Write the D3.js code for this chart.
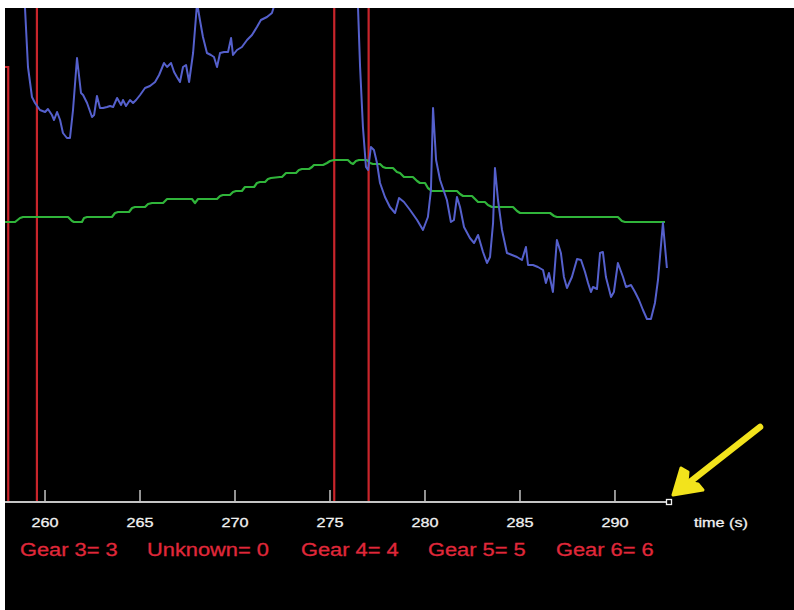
<!DOCTYPE html>
<html>
<head>
<meta charset="utf-8">
<script src="https://cdn.jsdelivr.net/npm/d3@7"></script>
<style>
  html, body { margin: 0; padding: 0; background: #ffffff; }
  svg { display: block; }
</style>
</head>
<body>
<svg id="chart" width="794" height="610"></svg>
<script>
// Engine speed trace (rpm) against lap time (s)
const rpmTime = [
  258.87, 258.97, 259.13, 259.34, 259.50, 259.76, 260.03, 260.18, 260.39, 260.50,
  260.66, 260.82, 260.97, 261.18, 261.34, 261.50, 261.71, 261.92, 262.03, 262.24,
  262.50, 262.61, 262.76, 262.92, 263.08, 263.29, 263.45, 263.61, 263.82, 264.03,
  264.13, 264.29, 264.50, 264.66, 264.82, 265.03, 265.29, 265.55, 265.82, 266.03,
  266.29, 266.45, 266.66, 266.82, 266.97, 267.13, 267.29, 267.45, 267.61, 267.82,
  268.03, 268.18, 268.34, 268.55, 268.76, 268.92, 269.08, 269.24, 269.45, 269.66,
  269.82, 269.92, 270.13, 270.39, 270.66, 270.92, 271.18, 271.39, 271.71, 271.97,
  272.18, 272.39, 273.45, 275.55, 276.39,
  276.50, 276.61, 276.76, 276.92, 277.03, 277.18, 277.34, 277.50, 277.66, 277.92,
  278.18, 278.45, 278.66, 278.92, 279.24, 279.61, 279.92, 280.18, 280.34, 280.45,
  280.61, 280.82, 281.18, 281.39, 281.55, 281.71, 281.87, 282.08, 282.39, 282.61,
  282.82, 283.08, 283.29, 283.45, 283.61, 283.71, 283.87, 284.08, 284.34, 284.61,
  284.87, 285.13, 285.34, 285.45, 285.71, 285.97, 286.24, 286.39, 286.55, 286.76,
  286.97, 287.18, 287.34, 287.50, 287.76, 288.03, 288.24, 288.45, 288.61, 288.76,
  288.87, 289.08, 289.24, 289.39, 289.55, 289.82, 289.97, 290.18, 290.45, 290.61,
  290.87, 291.08, 291.29, 291.50, 291.71, 291.92, 292.13, 292.29, 292.55, 292.76
];
const rpm = [
  5220, 4950, 4350, 4050, 3990, 3920, 3900, 3930, 3870, 3820,
  3900, 3820, 3690, 3640, 3640, 3920, 4440, 4090, 4070, 3990,
  3850, 3870, 4060, 3940, 3940, 3950, 3960, 3950, 4040, 3970,
  4020, 3960, 4020, 3990, 4020, 4070, 4140, 4160, 4200, 4270,
  4390, 4350, 4390, 4300, 4250, 4200, 4350, 4370, 4200, 4490,
  4990, 4820, 4650, 4490, 4470, 4450, 4350, 4490, 4500, 4500,
  4640, 4470, 4520, 4550, 4620, 4670, 4750, 4820, 4850, 4890,
  5020, 5320, 6520, 6520, 5220,
  4950, 4350, 3750, 3350, 3320, 3550, 3520, 3390, 3190, 3050,
  2950, 2890, 3040, 3000, 2920, 2820, 2720, 2850, 3120, 3940,
  3420, 3220, 3020, 2800, 2820, 3050, 2950, 2750, 2640, 2590,
  2670, 2500, 2390, 2450, 2790, 3340, 3020, 2720, 2490, 2470,
  2450, 2420, 2550, 2370, 2370, 2350, 2320, 2190, 2290, 2100,
  2620, 2490, 2250, 2140, 2250, 2430, 2420, 2300, 2190, 2100,
  2150, 2130, 2490, 2500, 2250, 2050, 2100, 2390, 2250, 2150,
  2170, 2100, 2020, 1920, 1830, 1830, 1990, 2220, 2790, 2340
];

// Vehicle speed (km/h)
const speedTime = [
  257.92, 258.45, 258.71, 258.87, 261.24, 261.45, 261.55, 261.97, 262.08, 262.24,
  263.55, 263.71, 263.87, 264.45, 264.61, 264.76, 265.29, 265.45, 265.66, 266.24,
  266.45, 267.76, 267.92, 268.08, 269.08, 269.24, 269.39, 269.76, 269.92, 270.08,
  270.39, 270.55, 271.03, 271.18, 271.34, 271.61, 271.76, 271.92, 272.39, 272.50,
  272.71, 273.24, 273.39, 273.55, 273.92, 274.08, 274.18, 274.66, 274.87, 275.03,
  275.24, 275.97, 276.13, 276.24, 276.39, 276.55, 276.97, 277.13, 277.29, 277.66,
  277.82, 277.97, 278.34, 278.55, 278.71, 278.92, 279.39, 279.61, 279.76, 280.03,
  280.18, 280.39, 281.71, 281.87, 282.03, 282.50, 282.66, 282.82, 283.18, 283.34,
  283.55, 284.66, 284.87, 285.03, 286.61, 286.82, 286.97, 290.18, 290.39, 290.55,
  292.66
];
const speed = [
  140, 140, 142, 142.5, 142.5, 140.5, 140, 140, 142, 142.5,
  142.5, 144.5, 145, 145, 147, 147.5, 147.5, 149, 149.5, 149.5,
  151.5, 151.5, 149.5, 151.5, 151.5, 153, 153.5, 153.5, 155, 155.5,
  155.5, 157.5, 157.5, 159.5, 160, 160, 161.5, 162, 162.5, 162.5,
  164.5, 164.5, 166, 166.5, 166.5, 167.5, 168.5, 168.5, 169.5, 170.5,
  171, 171, 169.5, 169, 170.5, 171, 171, 169.5, 169, 169,
  167.5, 167, 167, 165, 164.5, 162.5, 162.5, 160.5, 159.5, 159.5,
  157, 155.5, 155.5, 154, 153, 153, 151.5, 150, 150, 148.5,
  147.5, 147.5, 145.5, 144.5, 144.5, 143, 142.5, 142.5, 140.5, 140,
  140
];

// Gear channel: value holds from each change time onward
const gearTime = [257.92, 258.09, 259.60, 275.25, 277.06, 292.76];
const gear = [2, 0, 3, 0, 4, 4];

const tickValues = [260, 265, 270, 275, 280, 285, 290];
const axisTitle = "time (s)";
const legendLabels = ["Gear 3= 3", "Unknown= 0", "Gear 4= 4", "Gear 5= 5", "Gear 6= 6"];

// ---- layout ----
const W = 794, H = 610;
const panelLeft = 5, panelTop = 8;
const axisY = 502;
const legendX = [20, 147, 301, 428, 556];
const legendY = 556;
const fontFamily = "'Liberation Sans', Arial, Helvetica, sans-serif";

const svg = d3.select("#chart");

svg.append("rect")
  .attr("x", panelLeft).attr("y", panelTop)
  .attr("width", W - panelLeft).attr("height", H - panelTop)
  .attr("fill", "#000000");

const x = d3.scaleLinear().domain([257.92, 292.87]).range([5, 669]);
const yRpm = d3.scaleLinear().domain([0, 5000]).range([axisY, 2]);
const ySpeed = d3.scaleLinear().domain([0, 250]).range([axisY, 2]);
const yGear = d3.scaleLinear().domain([0, 2]).range([axisY, 67]);

svg.append("defs").append("clipPath").attr("id", "plot-clip")
  .append("rect")
  .attr("x", panelLeft).attr("y", panelTop)
  .attr("width", W - panelLeft).attr("height", axisY - panelTop);

const plot = svg.append("g").attr("clip-path", "url(#plot-clip)");

const gearLine = d3.line()
  .x((d, i) => x(gearTime[i]))
  .y(d => yGear(d))
  .curve(d3.curveStepAfter);
plot.append("path")
  .attr("d", gearLine(gear))
  .attr("fill", "none")
  .attr("stroke", "#c9252b")
  .attr("stroke-width", 2.2);

const speedLine = d3.line()
  .x((d, i) => x(speedTime[i]))
  .y(d => ySpeed(d));
plot.append("path")
  .attr("d", speedLine(speed))
  .attr("fill", "none")
  .attr("stroke", "#30b43a")
  .attr("stroke-width", 2.2)
  .attr("stroke-linejoin", "round");

const rpmLine = d3.line()
  .x((d, i) => x(rpmTime[i]))
  .y(d => yRpm(d));
plot.append("path")
  .attr("d", rpmLine(rpm))
  .attr("fill", "none")
  .attr("stroke", "#5560cc")
  .attr("stroke-width", 2)
  .attr("stroke-linejoin", "round");

// ---- time axis ----
const axisColor = "#c4c4c4";
const tickFont = 13.5;
const axis = d3.axisBottom(x)
  .tickValues(tickValues)
  .tickFormat(d3.format("d"))
  .tickSizeInner(-12)
  .tickSizeOuter(0)
  .tickPadding(15.5);

const gAxis = svg.append("g")
  .attr("transform", `translate(0,${axisY})`)
  .call(axis);
gAxis.select(".domain").remove();
gAxis.selectAll(".tick line")
  .attr("stroke", axisColor)
  .attr("stroke-width", 1.5);
gAxis.selectAll(".tick text")
  .attr("fill", "#f2f2f2")
  .attr("stroke", "#f2f2f2")
  .attr("stroke-width", 0.3)
  .attr("font-family", fontFamily)
  .attr("font-size", tickFont)
  .attr("transform", "scale(1.2,1)");

const axisEnd = x.range()[1];
svg.append("line")
  .attr("x1", panelLeft).attr("x2", axisEnd - 2)
  .attr("y1", axisY).attr("y2", axisY)
  .attr("stroke", axisColor)
  .attr("stroke-width", 2);

svg.append("rect")
  .attr("x", axisEnd - 2.5).attr("y", axisY - 2.5)
  .attr("width", 5).attr("height", 5)
  .attr("fill", "#000000")
  .attr("stroke", "#f0f0f0")
  .attr("stroke-width", 1.3);

svg.append("text")
  .attr("transform", `translate(${axisEnd + 25},${axisY + 25}) scale(1.2,1)`)
  .attr("fill", "#f2f2f2")
  .attr("stroke", "#f2f2f2")
  .attr("stroke-width", 0.3)
  .attr("font-family", fontFamily)
  .attr("font-size", tickFont)
  .text(axisTitle);

// ---- gear legend ----
svg.append("g").selectAll("text")
  .data(legendLabels)
  .join("text")
  .attr("transform", (d, i) => `translate(${legendX[i]},${legendY}) scale(1.18,1)`)
  .attr("fill", "#e0283a")
  .attr("stroke", "#e0283a")
  .attr("stroke-width", 0.3)
  .attr("font-family", fontFamily)
  .attr("font-size", 18.5)
  .text(d => d);

// ---- pointer to the end of the time axis ----
const ax = axisEnd + 4, ay = axisY - 7;
const arrow = svg.append("g")
  .attr("fill", "#f2e31c")
  .attr("stroke", "#f2e31c")
  .attr("stroke-linejoin", "round")
  .attr("stroke-linecap", "round");
arrow.append("path")
  .attr("d", `M${ax + 87},${ay - 68} L${ax + 8},${ay - 6}`)
  .attr("fill", "none")
  .attr("stroke-width", 6.5);
arrow.append("path")
  .attr("d", `M${ax},${ay} L${ax + 8},${ay - 27} L${ax + 15},${ay - 23} L${ax + 14},${ay - 13} L${ax + 25},${ay - 11} L${ax + 30},${ay - 5} Z`)
  .attr("stroke-width", 3);
</script>
</body>
</html>
